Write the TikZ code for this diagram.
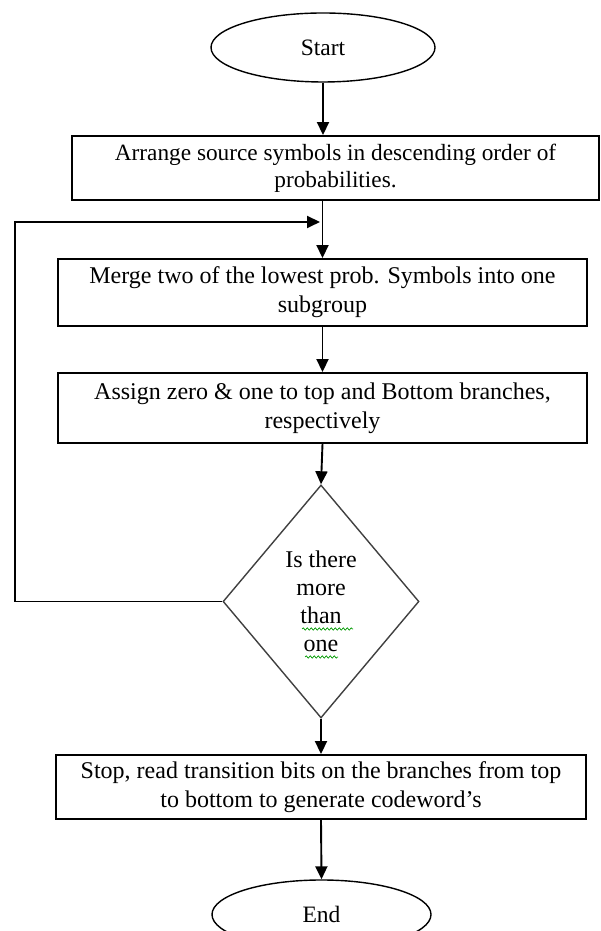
\documentclass[tikz,border=0pt]{standalone}
\usepackage{fontspec}
\setmainfont{Liberation Serif}
\usetikzlibrary{shapes.geometric,arrows.meta,decorations.pathmorphing}

\begin{document}
\begin{tikzpicture}[x=1pt,y=1pt,
    flowbox/.style={draw, line width=1.9pt, minimum height=67pt, inner sep=0pt,
        align=center, font=\fontsize{24}{29}\selectfont},
    terminal/.style={draw, ellipse, line width=1.4pt, minimum width=224pt,
        minimum height=69pt, inner sep=0pt, font=\fontsize{23.5}{28}\selectfont},
    decision/.style={draw=black!75, diamond, line width=1.4pt, minimum width=196pt,
        minimum height=233pt, inner sep=0pt, align=center,
        font=\fontsize{24}{28}\selectfont},
    flow/.style={line width=1.9pt, -{Triangle[length=13pt,width=12pt]}},
    spell/.style={green!60!black, line width=0.7pt, decorate,
        decoration={snake, amplitude=1.2pt, segment length=4pt}}]
      \useasboundingbox (0,0) rectangle (601,931);
      % steps, top to bottom
      \node[terminal] (start) at (323,883.5) {Start};
      \node[flowbox, minimum width=527pt, minimum height=64pt,
          font=\fontsize{23.3}{27}\selectfont] (arrange) at (335.5,763)
          {Arrange source symbols in descending order of\\probabilities.};
      \node[flowbox, minimum width=529pt] (merge) at (322.5,638.5)
          {Merge two of the lowest prob. Symbols into one\\subgroup};
      \node[flowbox, minimum width=529pt, minimum height=70pt] (assign) at (322.5,523)
          {Assign zero \& one to top and Bottom branches,\\respectively};
      \node[decision] (decide) at (321,329.5) {Is there\\more\\than\\one};
      \node[flowbox, minimum width=530pt, minimum height=64pt] (stop) at (321,144)
          {Stop, read transition bits on the branches from top\\to bottom to generate codeword's};
      \node[terminal, minimum width=219pt] (finish) at (321.5,16.5) {End};
      % spell check marks
      \draw[spell] (302,302) -- (353,302);
      \draw[spell] (305,274) -- (338,274);
      % connectors
      \coordinate (join) at (320,709);
      \coordinate (corner) at (15,709);
      \draw[flow] (start.south) -- (start.south |- arrange.north);
      \draw[flow] (merge.north |- arrange.south) -- (merge.north);
      \draw[flow] (merge.south) -- (assign.north);
      \draw[flow] (assign.south) -- (decide.north);
      \draw[flow] (decide.south) -- (stop.north);
      \draw[flow] (stop.south) -- (finish.north);
      \draw[flow] (decide.west) -- (decide.west -| corner) -- (corner) -- (join);
\end{tikzpicture}
\end{document}
